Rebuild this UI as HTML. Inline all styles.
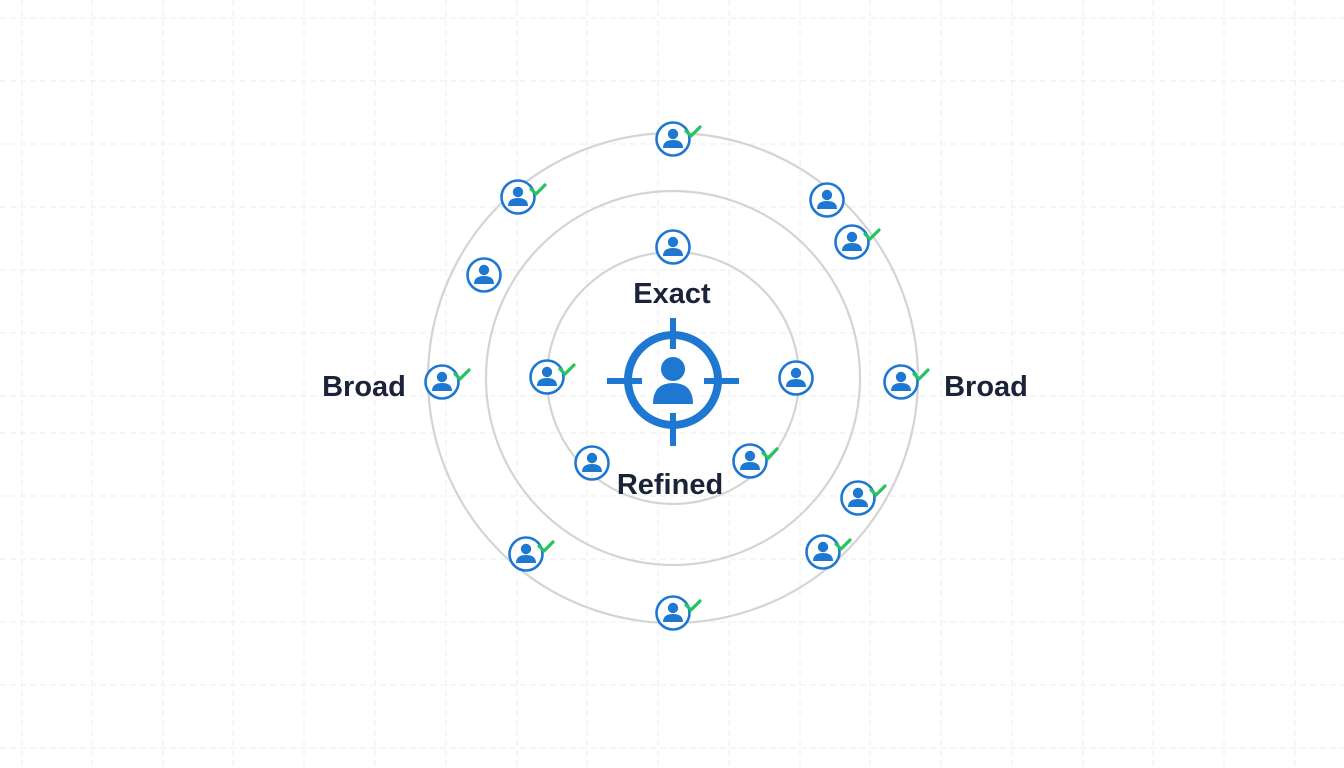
<!DOCTYPE html>
<html><head><meta charset="utf-8"><style>
html,body{margin:0;padding:0;background:#fff;}
svg{display:block;}
text{font-family:"Liberation Sans",sans-serif;font-weight:bold;fill:#1b2338;}
</style></head><body>
<svg width="1344" height="768" viewBox="0 0 1344 768" xmlns="http://www.w3.org/2000/svg">
<defs>
<g id="ic">
<circle cx="0" cy="0" r="16.5" fill="#fff" stroke="#1e78d2" stroke-width="2.6"/>
<circle cx="0" cy="-5" r="5.2" fill="#1e78d2"/>
<path d="M-10,9 Q-10,1 0,1 Q10,1 10,9 Z" fill="#1e78d2"/>
</g>
<g id="ck">
<use href="#ic"/>
<path d="M13,-8 L18,-3 L27,-12" fill="none" stroke="#22c55e" stroke-width="3.2" stroke-linecap="round" stroke-linejoin="round"/>
</g>
</defs>
<g stroke="#eeeeee" stroke-width="1" stroke-dasharray="6,4">
<line x1="22" y1="0" x2="22" y2="768"/><line x1="92" y1="0" x2="92" y2="768"/><line x1="163" y1="0" x2="163" y2="768"/><line x1="233" y1="0" x2="233" y2="768"/><line x1="304" y1="0" x2="304" y2="768"/><line x1="375" y1="0" x2="375" y2="768"/><line x1="446" y1="0" x2="446" y2="768"/><line x1="517" y1="0" x2="517" y2="768"/><line x1="587" y1="0" x2="587" y2="768"/><line x1="658" y1="0" x2="658" y2="768"/><line x1="729" y1="0" x2="729" y2="768"/><line x1="800" y1="0" x2="800" y2="768"/><line x1="870" y1="0" x2="870" y2="768"/><line x1="941" y1="0" x2="941" y2="768"/><line x1="1012" y1="0" x2="1012" y2="768"/><line x1="1083" y1="0" x2="1083" y2="768"/><line x1="1153" y1="0" x2="1153" y2="768"/><line x1="1224" y1="0" x2="1224" y2="768"/><line x1="1295" y1="0" x2="1295" y2="768"/>
<line x1="0" y1="18" x2="1344" y2="18"/><line x1="0" y1="81" x2="1344" y2="81"/><line x1="0" y1="144" x2="1344" y2="144"/><line x1="0" y1="207" x2="1344" y2="207"/><line x1="0" y1="270" x2="1344" y2="270"/><line x1="0" y1="333" x2="1344" y2="333"/><line x1="0" y1="396" x2="1344" y2="396"/><line x1="0" y1="433" x2="1344" y2="433"/><line x1="0" y1="496" x2="1344" y2="496"/><line x1="0" y1="559" x2="1344" y2="559"/><line x1="0" y1="622" x2="1344" y2="622"/><line x1="0" y1="685" x2="1344" y2="685"/><line x1="0" y1="748" x2="1344" y2="748"/>
</g>
<g fill="none" stroke="#d4d4d4" stroke-width="2.2">
<circle cx="673" cy="378" r="245"/>
<circle cx="673" cy="378" r="187"/>
<circle cx="673" cy="378" r="126"/>
</g>
<g stroke="#1e78d2" fill="none">
<circle cx="673" cy="380" r="45" stroke-width="8"/>
<g stroke-width="6">
<line x1="607" y1="381" x2="642" y2="381"/><line x1="704" y1="381" x2="739" y2="381"/>
<line x1="673" y1="318" x2="673" y2="349"/><line x1="673" y1="413" x2="673" y2="446"/>
</g>
</g>
<circle cx="673" cy="369" r="12" fill="#1e78d2"/>
<path d="M653,404 Q653,383 673,383 Q693,383 693,404 Z" fill="#1e78d2"/>
<use href="#ck" x="673" y="139"/>
<use href="#ck" x="518" y="197"/>
<use href="#ic" x="827" y="200"/>
<use href="#ic" x="484" y="275"/>
<use href="#ck" x="852" y="242"/>
<use href="#ck" x="442" y="382"/>
<use href="#ck" x="901" y="382"/>
<use href="#ck" x="858" y="498"/>
<use href="#ck" x="526" y="554"/>
<use href="#ck" x="823" y="552"/>
<use href="#ck" x="673" y="613"/>
<use href="#ic" x="673" y="247"/>
<use href="#ck" x="547" y="377"/>
<use href="#ic" x="796" y="378"/>
<use href="#ic" x="592" y="463"/>
<use href="#ck" x="750" y="461"/>
<text x="672" y="303" font-size="29" text-anchor="middle">Exact</text>
<text x="670" y="494" font-size="29" text-anchor="middle">Refined</text>
<text x="364" y="396" font-size="29" text-anchor="middle">Broad</text>
<text x="986" y="396" font-size="29" text-anchor="middle">Broad</text>
</svg>
</body></html>
